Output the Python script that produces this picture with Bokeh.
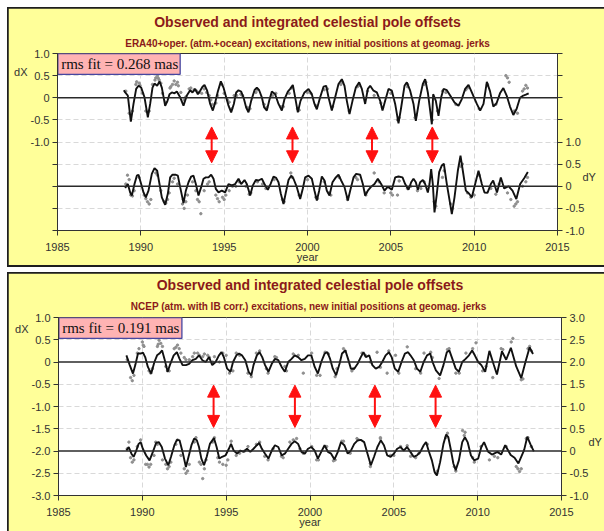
from bokeh.plotting import figure
from bokeh.models import (Range1d, LinearAxis, FixedTicker, CustomJSTickFormatter,
                          Span, Title, Arrow, NormalHead)
from bokeh.layouts import column
from bokeh.embed import file_html
from bokeh.resources import INLINE
from bokeh.core.properties import value

# ---------------- data ----------------
jerk_years = [1994.25, 1999.10, 2003.87, 2007.49]
x_ticks = [1985, 1990, 1995, 2000, 2005, 2010, 2015]

# Panel A : ERA40+oper.
a_subtitle = "ERA40+oper. (atm.+ocean) excitations, new initial positions at geomag. jerks"
a_rms = 0.268
a_dx_year = [1988.98, 1989.06, 1989.22, 1989.40, 1989.56, 1989.72, 1989.86, 1990.02, 1990.22, 1990.42,
             1990.56, 1990.70, 1990.82, 1990.98, 1991.12, 1991.26, 1991.46, 1991.60, 1991.72, 1991.86,
             1992.02, 1992.16, 1992.36, 1992.56, 1992.76, 1992.96, 1993.10, 1993.26, 1993.42, 1993.56,
             1993.70, 1993.82, 1993.98, 1994.16, 1994.32, 1994.46, 1994.62, 1994.80, 1994.96, 1995.12,
             1995.26, 1995.42, 1995.58, 1995.72, 1995.86, 1996.02, 1996.16, 1996.32, 1996.46, 1996.62,
             1996.82, 1996.96, 1997.10, 1997.26, 1997.40, 1997.56, 1997.70, 1997.86, 1998.06, 1998.26,
             1998.46, 1998.62, 1998.82, 1998.96, 1999.12, 1999.26, 1999.42, 1999.58, 1999.82, 2000.06,
             2000.26, 2000.42, 2000.56, 2000.76, 2000.96, 2001.12, 2001.26, 2001.46, 2001.66, 2001.86,
             2002.06, 2002.22, 2002.36, 2002.52, 2002.70, 2002.90, 2003.10, 2003.26, 2003.46, 2003.62,
             2003.76, 2003.96, 2004.16, 2004.36, 2004.50, 2004.66, 2004.86, 2005.06, 2005.26, 2005.46,
             2005.62, 2005.82, 2005.96, 2006.16, 2006.36, 2006.50, 2006.70, 2006.92, 2007.06, 2007.22,
             2007.36, 2007.46, 2007.54, 2007.70, 2007.86, 2008.02, 2008.16, 2008.36, 2008.56, 2008.82,
             2009.06, 2009.26, 2009.46, 2009.66, 2009.86, 2010.16, 2010.36, 2010.56, 2010.76, 2010.95,
             2011.15, 2011.35, 2011.55, 2011.75, 2011.95, 2012.15, 2012.35, 2012.55, 2012.75, 2012.95,
             2013.10, 2013.27]
a_dx_val = [0.17, 0.12, 0.05, -0.54, -0.14, 0.20, 0.27, 0.23, 0.01, -0.44,
            -0.14, 0.23, 0.32, 0.27, 0.37, 0.23, -0.18, -0.07, 0.08, 0.12,
            0.10, 0.14, 0.01, -0.18, 0.05, 0.17, 0.12, 0.20, 0.08, 0.16,
            0.25, 0.29, 0.16, -0.14, -0.29, -0.11, 0.14, 0.37, 0.23, 0.01,
            -0.18, -0.33, -0.14, 0.12, 0.17, 0.14, 0.01, -0.22, -0.33, -0.07,
            0.17, 0.23, 0.17, 0.01, -0.22, -0.29, -0.07, 0.14, 0.08, -0.14,
            -0.29, -0.03, 0.14, 0.20, 0.29, 0.01, -0.33, -0.07, 0.12, 0.20,
            0.08, -0.14, -0.26, 0.01, 0.25, 0.27, 0.01, -0.29, 0.01, 0.31,
            0.42, 0.27, -0.07, -0.37, -0.07, 0.23, 0.35, 0.20, -0.14, 0.20,
            0.27, 0.16, 0.12, -0.07, -0.29, -0.07, 0.20, 0.16, -0.14, -0.58,
            -0.22, 0.27, 0.35, 0.16, -0.14, -0.52, -0.07, 0.31, 0.42, 0.12,
            -0.29, -0.60, 0.08, -0.07, -0.41, 0.01, 0.20, 0.17, 0.05, -0.11,
            -0.18, -0.03, 0.20, 0.29, 0.12, -0.14, -0.29, -0.14, 0.36, 0.15,
            -0.20, -0.12, 0.10, 0.22, 0.05, -0.20, -0.39, -0.25, 0.00, 0.05,
            0.07, 0.10]
a_dx_obs_year = [1989.1, 1989.3, 1989.5, 1989.7, 1989.9, 1990.1, 1990.3, 1990.5, 1990.7, 1990.9,
                 1991.0, 1991.1, 1991.3, 1991.5, 1991.8, 1991.9, 1992.0, 1992.2, 1992.4, 1992.6,
                 1992.9, 1993.2, 1993.5, 1993.8, 1994.1, 1994.3, 1994.6, 1995.0, 1995.3, 1995.6,
                 1996.0, 1996.4, 1996.9, 1997.4, 1997.9, 1998.4, 1998.9, 1999.4, 2000.0, 2000.5,
                 2001.0, 2001.5, 2002.0, 2002.5, 2003.0, 2003.6, 2004.0, 2004.5, 2005.0, 2005.5,
                 2006.0, 2006.5, 2007.0, 2007.5, 2007.8, 2008.3, 2008.9, 2009.6, 2010.3, 2010.8,
                 2011.3, 2011.9, 2012.0, 2012.4, 2012.6, 2012.9, 2013.1, 2013.2,
                 1989.75, 1989.95, 1990.85, 1991.05, 1991.2, 1991.75, 1992.1, 1992.25, 1992.7, 1993.0,
                 1993.35, 1993.65, 1993.95, 1994.2, 1994.5, 1994.85, 1995.2, 1995.45, 1995.75, 1996.1,
                 1996.55, 1997.0, 1997.55, 1998.1, 1998.55, 1999.05, 1999.5, 2000.2, 2001.2, 2002.1,
                 2003.1, 2004.4, 2005.4, 2006.0, 2006.45, 2007.1, 2008.1, 2009.5, 2010.8, 2012.1, 2013.0]
a_dx_obs_val = [0.15, -0.35, -0.30, 0.30, 0.33, 0.10, -0.30, -0.30, 0.30, 0.45,
                0.50, 0.40, 0.10, -0.10, 0.25, 0.30, 0.38, 0.35, 0.12, -0.05,
                0.20, 0.18, 0.12, 0.20, 0.05, -0.15, 0.05, 0.10, -0.10, 0.05,
                0.08, -0.22, 0.12, -0.15, 0.05, -0.20, 0.10, -0.25, 0.12, -0.18,
                0.18, -0.20, 0.30, -0.30, 0.25, 0.15, 0.05, -0.22, 0.10, -0.45,
                0.25, -0.40, 0.30, -0.50, -0.30, 0.12, -0.15, 0.22, -0.25, 0.28,
                -0.15, 0.50, 0.45, -0.30, -0.35, 0.15, 0.28, 0.22,
                0.36, 0.28, 0.40, 0.44, 0.33, 0.22, 0.30, 0.27, 0.02, 0.22,
                0.15, 0.10, 0.12, -0.05, -0.12, 0.30, -0.05, -0.25, 0.05, 0.05,
                -0.25, 0.18, -0.22, 0.10, -0.20, 0.22, -0.28, 0.10, 0.20, 0.35,
                0.28, -0.12, -0.50, 0.30, -0.45, 0.35, 0.15, 0.18, 0.30, 0.35, 0.20]
a_dy_year = [1989.06, 1989.22, 1989.36, 1989.46, 1989.62, 1989.76, 1989.86, 1990.02, 1990.16, 1990.30,
             1990.46, 1990.66, 1990.82, 1990.98, 1991.12, 1991.26, 1991.46, 1991.62, 1991.76, 1991.90,
             1992.10, 1992.22, 1992.36, 1992.56, 1992.70, 1992.86, 1993.02, 1993.16, 1993.30, 1993.46,
             1993.62, 1993.76, 1993.90, 1994.06, 1994.22, 1994.36, 1994.50, 1994.66, 1994.86, 1995.06,
             1995.26, 1995.46, 1995.66, 1995.86, 1996.02, 1996.22, 1996.36, 1996.56, 1996.72, 1996.90,
             1997.06, 1997.26, 1997.46, 1997.62, 1997.78, 1997.96, 1998.12, 1998.26, 1998.40, 1998.56,
             1998.70, 1998.86, 1999.02, 1999.16, 1999.36, 1999.56, 1999.72, 1999.86, 2000.06, 2000.26,
             2000.42, 2000.56, 2000.70, 2000.86, 2001.02, 2001.16, 2001.32, 2001.50, 2001.70, 2001.86,
             2002.02, 2002.22, 2002.42, 2002.56, 2002.76, 2002.92, 2003.16, 2003.32, 2003.46, 2003.62,
             2003.82, 2004.02, 2004.22, 2004.42, 2004.62, 2004.82, 2005.06, 2005.26, 2005.46, 2005.70,
             2005.86, 2006.06, 2006.22, 2006.36, 2006.50, 2006.62, 2006.76, 2006.92, 2007.06, 2007.22,
             2007.32, 2007.42, 2007.52, 2007.62, 2007.76, 2007.90, 2008.06, 2008.18, 2008.36, 2008.56,
             2008.66, 2008.82, 2009.02, 2009.18, 2009.32, 2009.50, 2009.70, 2009.86, 2010.06, 2010.26,
             2010.46, 2010.62, 2010.80, 2011.00, 2011.14, 2011.37, 2011.60, 2011.80, 2012.07, 2012.30,
             2012.53, 2012.76, 2013.00, 2013.22]
a_dy_val = [-0.04, 0.05, -0.14, -0.21, 0.05, 0.24, 0.26, 0.05, -0.14, -0.25,
            -0.10, 0.28, 0.41, 0.35, 0.05, -0.25, -0.42, -0.17, 0.20, 0.26,
            0.26, 0.24, -0.02, -0.38, -0.10, 0.09, 0.22, 0.24, 0.05, -0.21,
            -0.02, 0.17, 0.20, 0.20, 0.26, 0.17, -0.06, -0.14, -0.10, -0.14,
            0.05, 0.02, 0.05, 0.17, 0.05, 0.14, 0.05, -0.21, 0.02, 0.14,
            0.13, 0.17, 0.02, -0.08, 0.05, 0.22, 0.19, 0.09, -0.17, -0.40,
            -0.14, 0.14, 0.24, 0.17, -0.02, -0.29, -0.05, 0.20, 0.24, 0.17,
            -0.10, -0.32, -0.10, 0.22, 0.13, -0.10, -0.21, 0.09, 0.20, 0.26,
            0.13, -0.02, -0.32, -0.10, 0.20, 0.28, 0.26, 0.05, -0.21, -0.10,
            -0.01, 0.05, 0.17, 0.05, -0.10, -0.01, -0.08, 0.20, 0.22, 0.20,
            0.05, -0.08, 0.09, 0.17, 0.09, -0.08, 0.09, 0.14, 0.05, -0.14,
            0.05, 0.39, 0.05, -0.59, -0.17, 0.32, 0.47, 0.51, 0.05, -0.40,
            -0.63, -0.25, 0.35, 0.69, 0.35, -0.10, -0.17, -0.25, 0.05, 0.35,
            0.05, -0.14, -0.15, 0.05, 0.13, -0.14, 0.20, -0.05, 0.00, -0.10,
            -0.29, 0.05, 0.18, 0.32]
a_dy_obs_year = [1989.1, 1989.2, 1989.4, 1989.6, 1989.9, 1990.2, 1990.4, 1990.6, 1990.9, 1991.2,
                 1991.4, 1991.6, 1991.9, 1992.2, 1992.5, 1992.6, 1992.8, 1993.1, 1993.4, 1993.6,
                 1993.8, 1994.1, 1994.5, 1994.7, 1994.9, 1995.1, 1995.5, 1995.9, 1996.3, 1996.6,
                 1997.0, 1997.5, 1998.0, 1998.5, 1999.0, 1999.5, 2000.0, 2000.5, 2001.0, 2001.4,
                 2001.9, 2002.4, 2002.9, 2003.5, 2004.0, 2004.6, 2005.1, 2005.5, 2006.0, 2006.6,
                 2007.0, 2007.6, 2008.1, 2008.6, 2009.2, 2009.6, 2010.0, 2010.3, 2011.0, 2011.5,
                 2012.0, 2012.4, 2012.5, 2012.9, 2013.2,
                 1989.3, 1989.5, 1990.3, 1990.5, 1991.0, 1991.5, 1991.7, 1992.0, 1992.55, 1992.7,
                 1993.3, 1993.5, 1994.0, 1994.6, 1995.0, 1995.3, 1995.7, 1996.5, 1997.3, 1998.6,
                 1999.1, 2000.6, 2001.3, 2002.4, 2003.0, 2003.5, 2004.3, 2005.0, 2005.4, 2006.2,
                 2006.8, 2007.7, 2008.2, 2008.7, 2009.3, 2009.8, 2011.3, 2012.2, 2012.6, 2013.1]
a_dy_obs_val = [0.05, 0.25, -0.20, -0.10, 0.20, -0.20, -0.35, -0.30, 0.30, -0.10,
                -0.35, -0.30, 0.10, 0.05, -0.40, -0.50, -0.20, 0.10, -0.30, -0.62,
                -0.10, 0.10, -0.20, -0.35, -0.25, -0.20, 0.00, 0.10, 0.00, -0.15,
                0.10, -0.05, 0.15, -0.30, 0.30, -0.20, 0.15, -0.25, 0.10, -0.20,
                0.20, -0.25, 0.20, -0.15, 0.30, -0.15, -0.20, 0.12, -0.05, -0.10,
                0.10, -0.35, 0.20, -0.40, 0.45, -0.15, -0.20, 0.25, -0.05, 0.05,
                -0.15, -0.45, -0.40, 0.00, 0.20,
                0.15, -0.22, -0.28, -0.40, 0.25, -0.38, -0.15, 0.18, -0.30, -0.35,
                -0.10, -0.35, 0.05, -0.28, -0.30, -0.10, 0.00, -0.18, 0.05, -0.35,
                0.20, -0.28, -0.15, -0.30, 0.15, -0.20, 0.10, -0.15, -0.20, 0.00,
                -0.05, -0.45, 0.35, -0.50, 0.50, -0.25, -0.18, -0.30, -0.35, 0.10]

# Panel B : NCEP
b_subtitle = "NCEP (atm. with IB corr.)  excitations, new initial positions at geomag. jerks"
b_rms = 0.191
b_dx_year = [1989.05, 1989.25, 1989.44, 1989.58, 1989.74, 1989.90, 1990.04, 1990.17, 1990.33, 1990.53,
             1990.72, 1990.88, 1991.02, 1991.18, 1991.32, 1991.51, 1991.67, 1991.87, 1992.06, 1992.22,
             1992.40, 1992.60, 1992.79, 1992.99, 1993.19, 1993.38, 1993.58, 1993.78, 1993.98, 1994.17,
             1994.37, 1994.57, 1994.72, 1994.86, 1995.06, 1995.26, 1995.41, 1995.61, 1995.77, 1995.94,
             1996.14, 1996.34, 1996.50, 1996.63, 1996.83, 1996.99, 1997.15, 1997.32, 1997.52, 1997.72,
             1997.91, 1998.11, 1998.31, 1998.50, 1998.70, 1998.90, 1999.09, 1999.29, 1999.49, 1999.69,
             1999.88, 2000.08, 2000.28, 2000.47, 2000.67, 2000.87, 2001.03, 2001.20, 2001.36, 2001.56,
             2001.76, 2001.91, 2002.11, 2002.27, 2002.44, 2002.64, 2002.84, 2003.03, 2003.19, 2003.33,
             2003.53, 2003.72, 2003.92, 2004.12, 2004.31, 2004.51, 2004.71, 2004.87, 2005.06, 2005.26,
             2005.46, 2005.66, 2005.85, 2005.99, 2006.19, 2006.38, 2006.58, 2006.78, 2006.98, 2007.17,
             2007.31, 2007.51, 2007.76, 2007.96, 2008.16, 2008.31, 2008.49, 2008.69, 2008.88, 2009.08,
             2009.28, 2009.48, 2009.67, 2009.83, 2010.03, 2010.22, 2010.45, 2010.70, 2010.95, 2011.15,
             2011.45, 2011.70, 2011.98, 2012.30, 2012.60, 2012.85, 2013.10, 2013.30]
b_dx_val = [0.15, -0.07, -0.26, -0.07, 0.19, 0.19, 0.21, 0.11, -0.11, -0.26,
            0.00, 0.15, 0.19, 0.26, 0.07, -0.22, -0.04, 0.15, 0.22, 0.07,
            -0.07, -0.07, -0.04, 0.04, 0.07, 0.15, 0.04, 0.00, 0.11, -0.07,
            0.00, 0.15, 0.22, 0.11, -0.15, -0.22, 0.00, 0.15, 0.19, 0.15,
            0.04, -0.22, -0.30, -0.07, 0.15, 0.22, 0.11, -0.07, -0.22, -0.04,
            0.07, 0.04, -0.11, -0.22, 0.00, 0.07, 0.15, 0.11, 0.04, 0.07,
            0.15, 0.15, -0.11, -0.26, 0.00, 0.19, 0.22, 0.07, -0.15, -0.30,
            -0.04, 0.19, 0.26, 0.07, -0.15, -0.15, -0.04, 0.11, 0.22, 0.11,
            0.15, -0.07, -0.15, -0.11, 0.00, 0.15, 0.22, 0.11, -0.15, -0.22,
            0.00, 0.19, 0.22, 0.15, 0.04, -0.15, -0.22, 0.00, 0.15, 0.19,
            0.00, -0.19, -0.30, -0.07, 0.22, 0.26, 0.07, -0.15, -0.22, 0.00,
            0.07, 0.15, 0.26, 0.15, 0.00, -0.07, -0.22, 0.25, -0.05, -0.28,
            0.24, 0.05, 0.32, -0.10, -0.36, 0.00, 0.33, 0.18]
b_dx_obs_year = [1989.1, 1989.3, 1989.4, 1989.7, 1990.0, 1990.1, 1990.4, 1990.6, 1990.9, 1991.0,
                 1991.1, 1991.4, 1991.6, 1991.9, 1992.1, 1992.2, 1992.5, 1992.8, 1993.1, 1993.4,
                 1993.7, 1994.0, 1994.3, 1994.6, 1995.0, 1995.4, 1995.8, 1996.3, 1996.8, 1997.4,
                 1997.9, 1998.5, 1999.0, 1999.6, 2000.1, 2000.6, 2001.1, 2001.6, 2002.1, 2002.6,
                 2003.1, 2003.6, 2004.0, 2004.6, 2005.1, 2005.8, 2006.3, 2006.8, 2007.3, 2007.7,
                 2008.2, 2008.7, 2009.3, 2009.9, 2010.3, 2010.9, 2011.4, 2012.0, 2012.1, 2012.6,
                 2013.0, 2013.2,
                 1989.5, 1989.8, 1990.05, 1990.5, 1990.95, 1991.2, 1991.5, 1992.0, 1992.3, 1992.6,
                 1993.0, 1993.3, 1993.6, 1993.9, 1994.2, 1994.8, 1995.2, 1995.6, 1996.5, 1997.0,
                 1997.5, 1998.0, 1998.6, 1999.3, 2000.4, 2000.9, 2001.5, 2002.0, 2002.5, 2003.3,
                 2004.2, 2004.7, 2005.3, 2006.6, 2007.2, 2008.3, 2008.9, 2009.7, 2010.5, 2011.5,
                 2012.7, 2013.1]
b_dx_obs_val = [0.05, -0.35, -0.42, 0.20, 0.45, 0.35, -0.20, -0.15, 0.35, 0.49,
                0.42, -0.10, -0.20, 0.30, 0.38, 0.30, 0.10, 0.05, 0.20, 0.15,
                0.18, 0.10, 0.12, 0.00, 0.15, -0.20, 0.15, -0.25, 0.20, -0.15,
                0.12, -0.10, 0.18, -0.25, 0.20, -0.30, 0.18, -0.15, 0.25, -0.15,
                0.20, 0.00, 0.22, -0.25, 0.15, 0.34, -0.15, 0.20, 0.10, -0.37,
                0.28, -0.25, 0.20, 0.43, -0.20, -0.35, 0.30, 0.45, 0.53, -0.40,
                0.30, 0.25,
                -0.30, 0.30, 0.38, -0.25, 0.40, 0.35, -0.20, 0.33, 0.20, 0.05,
                0.12, 0.20, 0.12, 0.15, 0.00, 0.20, -0.25, 0.20, -0.33, 0.25,
                -0.25, 0.10, -0.20, 0.15, -0.30, 0.22, -0.33, 0.30, -0.20, 0.15,
                -0.12, 0.25, -0.25, -0.25, 0.22, 0.30, -0.25, 0.30, -0.10, 0.28,
                -0.38, 0.35]
b_dy_year = [1989.05, 1989.19, 1989.35, 1989.48, 1989.64, 1989.78, 1989.90, 1990.03, 1990.23, 1990.43,
             1990.63, 1990.82, 1990.98, 1991.16, 1991.35, 1991.55, 1991.71, 1991.91, 1992.06, 1992.22,
             1992.40, 1992.60, 1992.73, 1992.93, 1993.09, 1993.25, 1993.38, 1993.52, 1993.68, 1993.84,
             1994.03, 1994.27, 1994.43, 1994.59, 1994.76, 1994.96, 1995.16, 1995.29, 1995.45, 1995.65,
             1995.85, 1996.04, 1996.24, 1996.44, 1996.63, 1996.83, 1996.97, 1997.13, 1997.32, 1997.52,
             1997.72, 1997.91, 1998.11, 1998.31, 1998.50, 1998.70, 1998.90, 1999.09, 1999.29, 1999.49,
             1999.69, 1999.88, 2000.08, 2000.28, 2000.47, 2000.67, 2000.87, 2001.07, 2001.26, 2001.46,
             2001.66, 2001.85, 2002.05, 2002.25, 2002.44, 2002.64, 2002.84, 2003.03, 2003.23, 2003.43,
             2003.63, 2003.82, 2004.02, 2004.22, 2004.41, 2004.61, 2004.81, 2005.00, 2005.20, 2005.40,
             2005.59, 2005.79, 2005.99, 2006.18, 2006.38, 2006.58, 2006.78, 2006.92, 2007.07, 2007.27,
             2007.43, 2007.57, 2007.76, 2007.96, 2008.12, 2008.25, 2008.41, 2008.55, 2008.69, 2008.88,
             2009.08, 2009.24, 2009.40, 2009.60, 2009.79, 2010.03, 2010.22, 2010.38, 2010.61, 2010.85,
             2011.18, 2011.40, 2011.64, 2011.97, 2012.20, 2012.43, 2012.77, 2012.96, 2013.15, 2013.35]
b_dy_val = [0.01, 0.09, -0.06, -0.13, 0.01, 0.16, 0.20, 0.05, -0.10, -0.21,
            -0.02, 0.18, 0.20, 0.09, -0.17, -0.32, -0.13, 0.13, 0.25, 0.24,
            -0.02, -0.36, -0.17, 0.13, 0.28, 0.24, 0.09, -0.17, -0.32, -0.13,
            0.16, 0.29, 0.09, -0.17, -0.13, -0.10, 0.05, 0.16, 0.01, -0.06,
            0.01, -0.02, 0.05, -0.02, 0.05, 0.13, 0.18, 0.05, -0.06, -0.17,
            0.01, 0.13, 0.09, -0.10, -0.06, 0.05, 0.16, 0.22, 0.16, -0.02,
            -0.06, 0.05, 0.09, 0.01, -0.17, -0.02, 0.13, -0.02, -0.06, -0.19,
            -0.02, 0.20, 0.13, -0.06, 0.01, 0.16, 0.24, 0.25, 0.20, -0.06,
            -0.32, -0.13, 0.09, 0.24, 0.13, -0.10, -0.13, -0.06, 0.05, 0.09,
            0.01, 0.09, -0.02, -0.13, -0.10, -0.02, 0.13, 0.20, 0.01, -0.21,
            -0.47, -0.55, -0.25, 0.16, 0.37, 0.31, 0.01, -0.28, -0.43, -0.21,
            0.20, 0.31, 0.20, -0.10, -0.21, -0.17, 0.09, 0.20, -0.01, -0.08,
            -0.02, -0.08, 0.13, -0.09, -0.15, -0.28, 0.02, 0.32, 0.15, -0.01]
b_dy_obs_year = [1989.1, 1989.2, 1989.4, 1989.7, 1989.9, 1990.2, 1990.4, 1990.7, 1990.9, 1991.2,
                 1991.5, 1991.7, 1992.0, 1992.3, 1992.6, 1992.8, 1993.1, 1993.4, 1993.6, 1993.8,
                 1994.2, 1994.5, 1994.8, 1995.0, 1995.3, 1995.8, 1996.3, 1996.8, 1997.3, 1997.8,
                 1998.3, 1998.8, 1999.2, 1999.6, 2000.1, 2000.5, 2001.0, 2001.5, 2001.9, 2002.4,
                 2002.9, 2003.6, 2004.2, 2004.8, 2005.4, 2006.0, 2006.5, 2007.0, 2007.6, 2008.1,
                 2008.6, 2009.1, 2009.25, 2009.7, 2010.2, 2010.7, 2011.2, 2011.7, 2012.4, 2012.5,
                 2012.9, 2013.2,
                 1989.3, 1989.5, 1990.3, 1990.5, 1990.8, 1991.4, 1991.6, 1992.1, 1992.5, 1992.7,
                 1993.2, 1993.5, 1993.7, 1994.3, 1994.6, 1995.1, 1995.6, 1996.1, 1997.0, 1997.5,
                 1998.4, 1999.0, 1999.4, 2000.4, 2001.4, 2002.0, 2002.8, 2003.6, 2004.2, 2005.0,
                 2005.8, 2006.3, 2007.5, 2008.2, 2008.7, 2009.2, 2009.8, 2011.0, 2012.3, 2012.6,
                 2013.0]
b_dy_obs_val = [0.05, 0.20, -0.25, 0.10, 0.25, -0.30, -0.36, -0.10, 0.15, -0.20,
                -0.40, -0.25, 0.15, -0.10, -0.50, -0.30, 0.20, -0.25, -0.62, -0.20,
                0.20, -0.15, -0.30, -0.32, 0.22, -0.05, 0.10, 0.15, -0.12, 0.05,
                -0.12, 0.20, 0.28, -0.05, 0.10, -0.20, 0.10, -0.20, 0.22, -0.05,
                0.25, -0.28, 0.28, -0.10, 0.10, -0.12, -0.05, 0.15, -0.45, 0.30,
                -0.35, 0.46, 0.42, -0.15, 0.10, -0.20, -0.15, 0.10, -0.40, -0.46,
                0.28, 0.10,
                -0.15, -0.20, -0.30, -0.30, 0.20, -0.30, -0.35, 0.25, -0.40, -0.45,
                0.30, -0.30, -0.40, 0.30, -0.25, -0.20, -0.10, 0.00, 0.20, -0.20,
                -0.15, 0.25, 0.05, -0.20, -0.22, 0.22, 0.28, -0.35, 0.30, -0.10,
                0.12, -0.15, -0.50, 0.40, -0.45, 0.35, -0.25, -0.12, -0.35, -0.40,
                0.30]

# ---------------- style ----------------
YELLOW = "#FFFF99"
TITLE_RED = "#8B1A1A"
SANS = "Liberation Sans"
SERIF = "Liberation Serif"
AXIS_GREY = "#333333"
GRID_GREY = "#d9d9d9"

MAIN_TITLE = "Observed and integrated celestial pole offsets"


def tick_formatter(hide_below=None, hide_above=None):
    lo = -99 if hide_below is None else hide_below
    hi = 99 if hide_above is None else hide_above
    return CustomJSTickFormatter(args=dict(lo=lo, hi=hi), code="""
        if (tick < lo - 1e-6 || tick > hi + 1e-6) { return ''; }
        if (Math.abs(tick) < 1e-9) { return '0'; }
        return tick.toFixed(1);
    """)


def side_label(p, text, at, side, standoff):
    # a tick-less axis whose single tick label is the series name
    ax = LinearAxis(ticker=FixedTicker(ticks=[at]),
                    formatter=CustomJSTickFormatter(args=dict(t=text), code="return t;"),
                    axis_line_color=None, major_tick_line_color=None, minor_tick_line_color=None,
                    major_tick_out=0, major_tick_in=0, major_label_standoff=standoff,
                    major_label_text_font=SANS, major_label_text_font_size="11px",
                    major_label_text_color=AXIS_GREY)
    p.add_layout(ax, side)


def make_panel(subtitle, rms, dx_year, dx_val, dxo_year, dxo_val, dy_year, dy_val,
               dyo_year, dyo_val, height, borders, title_standoff, sub_standoff,
               dx_at, dx_standoff, dy_at, dy_standoff,
               arrow_top, arrow_bottom, hide_left=None, hide_right=None):
    bl, br, bt, bb = borders
    p = figure(width=596, height=height, x_range=Range1d(1985, 2015), y_range=Range1d(-3, 1),
               output_backend="svg", toolbar_location=None, title=None,
               min_border_left=bl, min_border_right=br, min_border_top=bt, min_border_bottom=bb)
    p.extra_y_ranges = {"dy": Range1d(-1, 3)}
    p.border_fill_color = YELLOW
    p.background_fill_color = "white"
    p.outline_line_color = AXIS_GREY
    p.outline_line_width = 1

    # grid
    p.xgrid.ticker = FixedTicker(ticks=[1990, 1995, 2000, 2005, 2010])
    p.ygrid.ticker = FixedTicker(ticks=[0.5, -0.5, -1.0, -1.5, -2.5])
    for g in (p.xgrid, p.ygrid):
        g.grid_line_color = GRID_GREY
        g.grid_line_dash = "5 3"
        g.grid_line_width = 1

    # axes
    xa = p.xaxis[0]
    xa.ticker = FixedTicker(ticks=x_ticks)
    xa.axis_label = "year"
    xa.axis_label_text_font_style = "normal"
    xa.axis_label_text_font = SANS
    xa.axis_label_text_font_size = "11px"
    xa.axis_label_text_color = AXIS_GREY

    ya = p.yaxis[0]
    ya.ticker = FixedTicker(ticks=[1.0, 0.5, 0.0, -0.5, -1.0, -1.5, -2.0, -2.5, -3.0])
    ya.formatter = tick_formatter(hide_below=hide_left)

    ra = LinearAxis(y_range_name="dy",
                    ticker=FixedTicker(ticks=[-1.0, -0.5, 0.0, 0.5, 1.0, 1.5, 2.0, 2.5, 3.0]),
                    formatter=tick_formatter(hide_above=hide_right))
    p.add_layout(ra, "right")

    for ax in (xa, ya, ra):
        ax.axis_line_color = AXIS_GREY
        ax.major_tick_line_color = AXIS_GREY
        ax.major_tick_out = 5
        ax.major_tick_in = 0
        ax.minor_tick_line_color = None
        ax.major_label_text_font = SANS
        ax.major_label_text_font_size = "11px"
        ax.major_label_text_color = AXIS_GREY
        ax.major_label_standoff = 3
    xa.major_label_standoff = 7
    xa.axis_label_standoff = -3

    # dX / dY side labels
    side_label(p, "dX", dx_at, "left", dx_standoff)
    side_label(p, "dY", dy_at, "right", dy_standoff)

    # titles (first added is closest to the frame)
    p.add_layout(Title(text=subtitle, align="center", text_font=SANS, text_font_style="bold",
                       text_font_size="10px", text_color=TITLE_RED, standoff=sub_standoff), "above")
    p.add_layout(Title(text=MAIN_TITLE, align="center", text_font=SANS, text_font_style="bold",
                       text_font_size="14px", text_color=TITLE_RED, standoff=title_standoff), "above")

    # zero lines
    p.add_layout(Span(location=0, dimension="width", line_color="#2a2a2a", line_width=1.6))
    p.add_layout(Span(location=-2, dimension="width", line_color="#2a2a2a", line_width=1.6))

    # observations (grey dots) and integrated series (black lines)
    p.scatter(dxo_year, dxo_val, size=2.4, color="#8f8f8f", marker="circle")
    p.scatter(dyo_year, dyo_val, size=2.4, color="#8f8f8f", marker="circle", y_range_name="dy")
    p.line(dx_year, dx_val, line_color="#111111", line_width=1.9)
    p.line(dy_year, dy_val, line_color="#111111", line_width=1.9, y_range_name="dy")

    # geomagnetic jerks: red double arrows
    for yr in jerk_years:
        p.add_layout(Arrow(x_start=yr, y_start=arrow_bottom, x_end=yr, y_end=arrow_top,
                           line_color="#FF1010", line_width=2,
                           start=NormalHead(size=12, fill_color="#FF1010", line_color="#FF1010"),
                           end=NormalHead(size=12, fill_color="#FF1010", line_color="#FF1010")))

    # rms box
    box_h = 0.47
    p.quad(left=[1985.02], right=[1992.36], top=[1.0], bottom=[1.0 - box_h],
           fill_color="#FFB3B3", line_color="#4646a0", line_width=1.3)
    p.text(x=[1985.22], y=[1.0 - box_h / 2], text=["rms fit = %.3f mas" % rms],
           text_font=value(SERIF), text_font_size="15px", text_color="#111111",
           text_baseline="middle", text_align="left")
    return p


p1 = make_panel(a_subtitle, a_rms, a_dx_year, a_dx_val, a_dx_obs_year, a_dx_obs_val,
                a_dy_year, a_dy_val, a_dy_obs_year, a_dy_obs_val,
                height=257, borders=(49, 47, 45, 35), title_standoff=3, sub_standoff=9,
                dx_at=0.58, dx_standoff=0, dy_at=-1.79, dy_standoff=-5,
                arrow_top=-0.66, arrow_bottom=-1.47, hide_left=-1.0, hide_right=1.0)
p2 = make_panel(b_subtitle, b_rms, b_dx_year, b_dx_val, b_dx_obs_year, b_dx_obs_val,
                b_dy_year, b_dy_val, b_dy_obs_year, b_dy_obs_val,
                height=258, borders=(50, 38, 44, 36), title_standoff=2, sub_standoff=11,
                dx_at=0.75, dx_standoff=0, dy_at=-1.79, dy_standoff=-3,
                arrow_top=-0.52, arrow_bottom=-1.47)

p1.margin = (1, 0, 2, 1)
p2.margin = (1, 0, 0, 1)
w1 = column(p1, margin=(7, 0, 0, 7), styles={"background-color": "#1e1e1e"})
w2 = column(p2, margin=(5, 0, 0, 7), styles={"background-color": "#1e1e1e"})
root = column(w1, w2)

open("out.html", "w").write(file_html(root, INLINE))
